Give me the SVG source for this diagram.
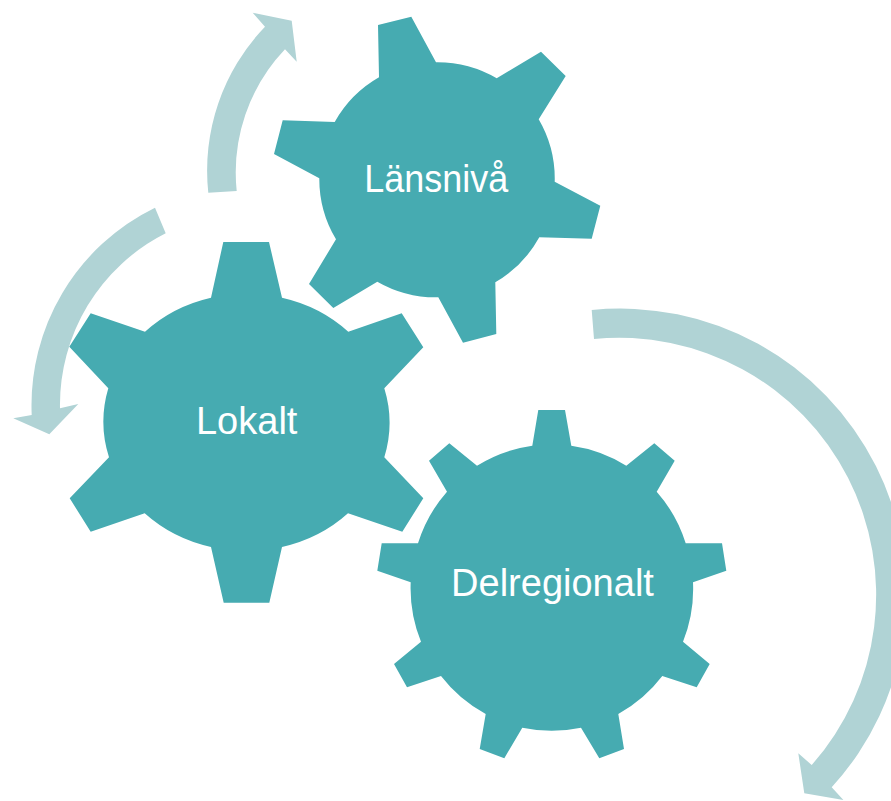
<svg xmlns="http://www.w3.org/2000/svg" width="891" height="801" viewBox="0 0 891 801">
<style>
.gear{fill:#46ABB1;}
.arrow{fill:#B0D3D5;}
.lbl{font-family:"Liberation Sans",Arial,sans-serif;font-size:38px;fill:#FFFFFF;text-anchor:middle;}
</style>
<rect width="891" height="801" fill="#FFFFFF"/>
<g id="connectors">
<path class="arrow" d="M208.3,192.7 A207.5,207.5 0 0 1 265,26.7 L252.7,12.7 L291.7,20.7 L296.7,61.7 L285,49.3 A179,179 0 0 0 236.7,191 Z"/>
<path class="arrow" d="M155,207.7 A220,220 0 0 0 31.7,415 L13.3,418.3 L49.3,434.3 L78.3,404 L60,408.3 A192,192 0 0 1 165.7,233.3 Z"/>
<path class="arrow" d="M591.7,310 A286,286 0 0 1 831.7,787.3 L843.4,799.9 L804.3,793.3 L798.3,753.3 L811.7,765 A257,257 0 0 0 594,339 Z"/>
</g>
<g id="gear-lansniva">
<path class="gear" d="M379,77.3 L378,25 L411.3,16.7 L436,62.3 A117.8,117.8 0 0 1 496.7,78.3 L541,51.7 L565.7,76 L538.7,119.3 A117.8,117.8 0 0 1 554.7,181.7 L600.3,205.7 L591.7,238.7 L539.3,237.3 A117.8,117.8 0 0 1 495.3,282.3 L496.3,334 L463,342.7 L438.3,297.3 A117.8,117.8 0 0 1 377.3,281.7 L333.3,308 L309,284 L336,239.3 A117.8,117.8 0 0 1 319.3,178.3 L274,154 L282.7,120.3 L334.7,122 A117.8,117.8 0 0 1 379,77.3 Z"/>
<text class="lbl" x="436.2" y="191.7" textLength="144" lengthAdjust="spacingAndGlyphs">Länsnivå</text>
</g>
<g id="gear-lokalt">
<path class="gear" d="M211,297.7 L223.3,242 L269,242 L282,297.7 A142.3,128.6 0 0 1 348.3,331.7 L401.7,313.3 L423.3,347.3 L384.3,388.3 A142.3,128.6 0 0 1 384.3,457.3 L423.3,498.3 L402.3,531.7 L348,513.3 A142.3,128.6 0 0 1 282,547 L269.3,602.7 L223.7,602.7 L211,547 A142.3,128.6 0 0 1 144.7,513.3 L90.7,531.7 L69.7,498.3 L109,457.3 A142.3,128.6 0 0 1 108.3,388.3 L69.3,346.7 L90.7,313.3 L145,331.7 A142.3,128.6 0 0 1 211,297.7 Z"/>
<text class="lbl" x="246.7" y="434">Lokalt</text>
</g>
<g id="gear-delregionalt">
<path class="gear" d="M532.3,445.7 L538.3,410 L565,410 L571.3,445.7 A142,142 0 0 1 626.3,465.7 L654.3,443.3 L674.7,460.7 L656.7,491.7 A142,142 0 0 1 685.7,543.3 L722,543.3 L726.3,570.7 L693,582.3 A142,142 0 0 1 683,641.7 L709.7,664 L696.7,687.3 L662.3,676 A142,142 0 0 1 618.3,714 L624,749 L599.3,758.3 L581,727.7 A142,142 0 0 1 522.3,727.7 L504.3,758.3 L479.7,749 L485.7,714 A142,142 0 0 1 441,676 L407,687.3 L394,664 L421,641.7 A142,142 0 0 1 410.7,582.3 L377.3,570.7 L381.7,543.3 L418,543.3 A142,142 0 0 1 447,491.7 L429,460.7 L449.3,443.3 L477,465.7 A142,142 0 0 1 532.3,445.7 Z"/>
<text class="lbl" x="552.5" y="595.7">Delregionalt</text>
</g>
</svg>
